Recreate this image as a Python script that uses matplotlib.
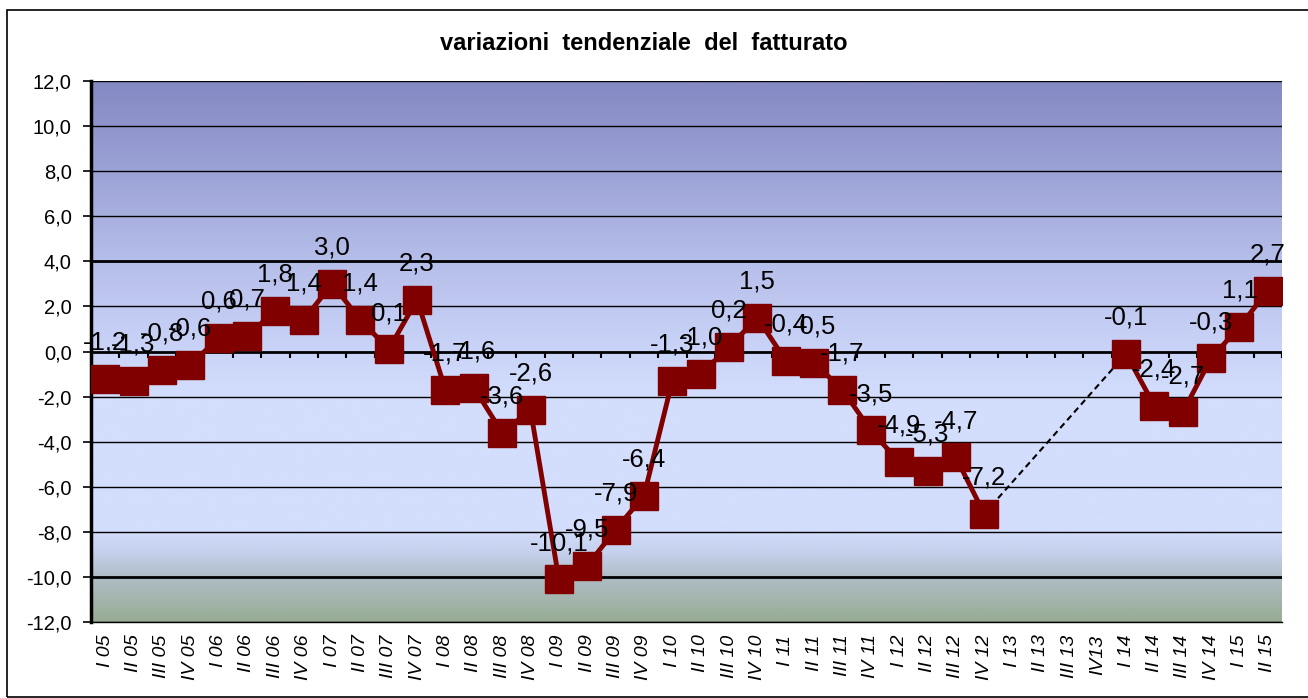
import numpy as np
import matplotlib.pyplot as plt
from matplotlib.colors import LinearSegmentedColormap
from matplotlib.patches import Rectangle

plt.rcParams['font.family'] = ['Liberation Sans', 'DejaVu Sans']

# categorie (trimestri)
trimestri = ['I 05', 'II 05', 'III 05', 'IV 05', 'I 06', 'II 06', 'III 06', 'IV 06',
             'I 07', 'II 07', 'III 07', 'IV 07', 'I 08', 'II 08', 'III 08', 'IV 08',
             'I 09', 'II 09', 'III 09', 'IV 09', 'I 10', 'II 10', 'III 10', 'IV 10',
             'I 11', 'II 11', 'III 11', 'IV 11', 'I 12', 'II 12', 'III 12', 'IV 12',
             'I 13', 'II 13', 'III 13', 'IV13', 'I 14', 'II 14', 'III 14', 'IV 14',
             'I 15', 'II 15']

# variazioni tendenziali (nan = dato mancante)
variazioni = [-1.2, -1.3, -0.8, -0.6, 0.6, 0.7, 1.8, 1.4,
              3.0, 1.4, 0.1, 2.3, -1.7, -1.6, -3.6, -2.6,
              -10.1, -9.5, -7.9, -6.4, -1.3, -1.0, 0.2, 1.5,
              -0.4, -0.5, -1.7, -3.5, -4.9, -5.3, -4.7, -7.2,
              np.nan, np.nan, np.nan, np.nan, -0.1, -2.4, -2.7, -0.3,
              1.1, 2.7]

y_ticks = [12, 10, 8, 6, 4, 2, 0, -2, -4, -6, -8, -10, -12]

x = np.arange(len(trimestri))
y = np.array(variazioni)

fig = plt.figure(figsize=(13.08, 6.98), dpi=100)
ax = fig.add_axes([91/1308, 1-622/698, (1282-91)/1308, (622-81)/698])

# sfondo sfumato
stops = [(12, '#8589C4'), (8, '#9CA3D6'), (4, '#B6BEEA'), (0, '#CAD4F8'),
         (-2, '#D3DDFC'), (-8, '#D3DDFC'), (-9, '#C4D0EC'), (-10, '#B0BEC8'),
         (-12, '#98AD95')]
cm = LinearSegmentedColormap.from_list(
    'bg', [((12 - v) / 24, c) for v, c in stops])
grad = np.linspace(0, 1, 400).reshape(-1, 1)
ax.imshow(grad, aspect='auto', cmap=cm, extent=(-0.5, len(x) - 0.5, -12, 12),
          origin='upper', zorder=0)

# griglia
for t in y_ticks:
    lw = 2.0 if t in (4, 0, -10) else 1.0
    ax.axhline(t, color='black', lw=lw, zorder=1)

# tacche asse x sulla linea dello zero
ax.vlines(np.arange(len(x) + 1) - 0.5, -0.3, 0, color='black', lw=1.5, zorder=2)

# tratto tratteggiato sul periodo mancante
valid = np.where(~np.isnan(y))[0]
gap = np.where(np.diff(valid) > 1)[0]
for g in gap:
    i0, i1 = valid[g], valid[g + 1]
    ax.plot([x[i0], x[i1]], [y[i0], y[i1]], ls='--', color='black', lw=1.5,
            dashes=(3, 2), zorder=3)

ax.plot(x, y, color='#800000', lw=3.5, marker='s', markersize=19.5,
        markerfacecolor='#800000', markeredgecolor='#800000', zorder=4)

for xi, yi in zip(x, y):
    if np.isnan(yi):
        continue
    ax.annotate(f'{yi:.1f}'.replace('.', ','), (xi, yi), xytext=(0, 26),
                textcoords='offset points', ha='center', va='center',
                fontsize=18.5, zorder=5)

ax.set_xlim(-0.5, len(x) - 0.5)
ax.set_ylim(-12, 12)
ax.set_yticks(y_ticks)
ax.set_yticklabels([f'{t:.1f}'.replace('.', ',') for t in y_ticks], fontsize=14.5)
ax.set_xticks(x)
ax.set_xticklabels(trimestri, rotation=90, fontsize=14, style='italic')
ax.tick_params(axis='x', length=0, pad=9)
ax.tick_params(axis='y', length=6, width=1.2, pad=8)

for s in ['top', 'right']:
    ax.spines[s].set_visible(False)
ax.spines['left'].set_linewidth(2.5)
ax.spines['bottom'].set_linewidth(1.0)

fig.text(644/1308, 1-44/698, 'variazioni  tendenziale  del  fatturato',
         ha='center', va='center', fontsize=17, fontweight='bold')

fig.patches.append(Rectangle((7/1308, 1/698), 1.1, 687/698, transform=fig.transFigure,
                             fill=False, edgecolor='black', lw=1.2))

fig.savefig('out.png', dpi=100)
